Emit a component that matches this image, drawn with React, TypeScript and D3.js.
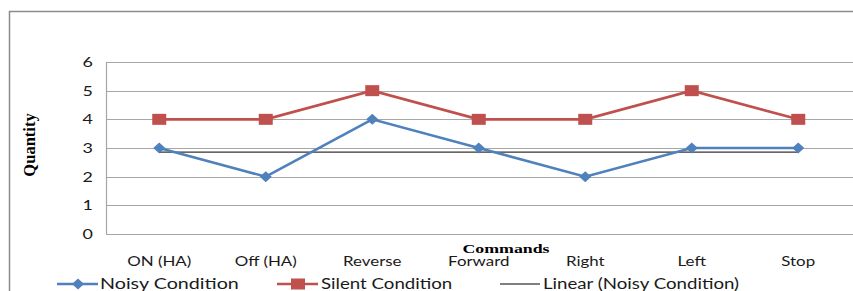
import React, { useEffect, useRef } from "react";
import * as d3 from "d3";

const commands = ["ON (HA)", "Off (HA)", "Reverse", "Forward", "Right", "Left", "Stop"];
const noisy = [3, 2, 4, 3, 2, 3, 3];
const silent = [4, 4, 5, 4, 4, 5, 4];
const yTicks = [0, 1, 2, 3, 4, 5, 6];

const BLUE = "#4f81bd";
const RED = "#c0504d";
const FONT = "Lato, 'DejaVu Sans', sans-serif";
const SERIF = "'Liberation Serif', serif";
const SX = 1.28; // the source picture is stretched sideways

export default function App() {
  const svgRef = useRef<SVGSVGElement | null>(null);

  useEffect(() => {
    const width = 853;
    const height = 291;
    const margin = { top: 62, right: 1.5, bottom: 57, left: 106 };

    const svg = d3.select(svgRef.current);
    svg.selectAll("*").remove();
    svg.attr("width", width).attr("height", height);

    svg.append("rect")
      .attr("x", 9.5).attr("y", 11.5)
      .attr("width", 900).attr("height", 400)
      .style("fill", "white")
      .style("stroke", "#8c8c8c")
      .style("stroke-width", 1.5);

    const x = d3.scaleBand()
      .domain(commands)
      .range([margin.left, width - margin.right]);

    const y = d3.scaleLinear()
      .domain([0, 6])
      .range([height - margin.bottom, margin.top]);

    const label = (g: any, px: number, py: number, txt: string, anchor: string, size: number, sx = SX) =>
      g.append("text")
        .attr("transform", `translate(${px},${py}) scale(${sx},1)`)
        .attr("text-anchor", anchor)
        .style("font-family", FONT)
        .style("font-size", size + "px")
        .style("fill", "#1a1a1a")
        .text(txt);

    // grid
    svg.append("g")
      .selectAll("line")
      .data(yTicks)
      .join("line")
      .attr("x1", margin.left)
      .attr("x2", width)
      .attr("y1", d => Math.round(y(d)) + 0.5)
      .attr("y2", d => Math.round(y(d)) + 0.5)
      .style("stroke", "#a6a6a6")
      .style("stroke-width", 1.2);

    svg.append("line")
      .attr("x1", margin.left + 0.5).attr("x2", margin.left + 0.5)
      .attr("y1", margin.top).attr("y2", height - margin.bottom)
      .style("stroke", "#a6a6a6")
      .style("stroke-width", 1.2);

    const yAxis = svg.append("g");
    yTicks.forEach(t => label(yAxis, 93, y(t) + 5, String(t), "end", 14));

    const xAxis = svg.append("g");
    commands.forEach(c => label(xAxis, x(c)! + x.bandwidth() / 2, 266, c, "middle", 13.2));

    const cx = (i: number) => x(commands[i])! + x.bandwidth() / 2;

    // linear trend of noisy condition (least squares)
    const idx = noisy.map((_, i) => i + 1);
    const mx = d3.mean(idx)!;
    const my = d3.mean(noisy)!;
    const slope = d3.sum(idx, (v, i) => (v - mx) * (noisy[i] - my)) / d3.sum(idx, v => (v - mx) ** 2);
    const trend = (v: number) => my + slope * (v - mx);
    svg.append("line")
      .attr("x1", cx(0)).attr("x2", cx(noisy.length - 1))
      .attr("y1", y(trend(1))).attr("y2", y(trend(noisy.length)))
      .style("stroke", "#000")
      .style("stroke-width", 1);

    const line = d3.line<number>()
      .x((_, i) => cx(i))
      .y(d => y(d));

    svg.append("path")
      .datum(silent)
      .attr("d", line)
      .style("fill", "none")
      .style("stroke", RED)
      .style("stroke-width", 2.6);

    svg.append("g")
      .selectAll("rect")
      .data(silent)
      .join("rect")
      .attr("x", (_, i) => cx(i) - 7)
      .attr("y", d => y(d) - 5.5)
      .attr("width", 14)
      .attr("height", 11)
      .style("fill", RED);

    svg.append("path")
      .datum(noisy)
      .attr("d", line)
      .style("fill", "none")
      .style("stroke", BLUE)
      .style("stroke-width", 2.6);

    const diamond = (px: number, py: number, w: number, h: number) =>
      `M${px},${py - h}L${px + w},${py}L${px},${py + h}L${px - w},${py}Z`;

    svg.append("g")
      .selectAll("path")
      .data(noisy)
      .join("path")
      .attr("d", (d, i) => diamond(cx(i), y(d), 6, 5.5))
      .style("fill", BLUE);

    // axis titles
    svg.append("text")
      .attr("transform", "translate(35,145) rotate(-90)")
      .attr("text-anchor", "middle")
      .style("font-family", SERIF)
      .style("font-weight", "bold")
      .style("font-size", "16.5px")
      .text("Quantity");

    svg.append("text")
      .attr("transform", "translate(506,253) scale(1.37,1)")
      .attr("text-anchor", "middle")
      .style("font-family", SERIF)
      .style("font-weight", "bold")
      .style("font-size", "13px")
      .text("Commands");

    // legend
    const legendY = 284;
    const lg = svg.append("g");

    lg.append("line")
      .attr("x1", 57).attr("x2", 98).attr("y1", legendY).attr("y2", legendY)
      .style("stroke", BLUE).style("stroke-width", 2.6);
    lg.append("path").attr("d", diamond(78, legendY, 6, 5.5)).style("fill", BLUE);
    label(lg, 100, legendY + 5, "Noisy Condition", "start", 15.4);

    lg.append("line")
      .attr("x1", 277).attr("x2", 318).attr("y1", legendY).attr("y2", legendY)
      .style("stroke", RED).style("stroke-width", 2.6);
    lg.append("rect").attr("x", 291).attr("y", legendY - 5.5).attr("width", 14).attr("height", 11)
      .style("fill", RED);
    label(lg, 321, legendY + 5, "Silent Condition", "start", 14.6);

    lg.append("line")
      .attr("x1", 500).attr("x2", 540).attr("y1", legendY).attr("y2", legendY)
      .style("stroke", "#000").style("stroke-width", 1);
    label(lg, 543, legendY + 5, "Linear (Noisy Condition)", "start", 14.6);
  }, []);

  return (
    <div style={{ position: "absolute", left: 0, top: 0, width: 853, height: 291, overflow: "hidden" }}>
      <svg ref={svgRef} style={{ display: "block" }}></svg>
    </div>
  );
}
